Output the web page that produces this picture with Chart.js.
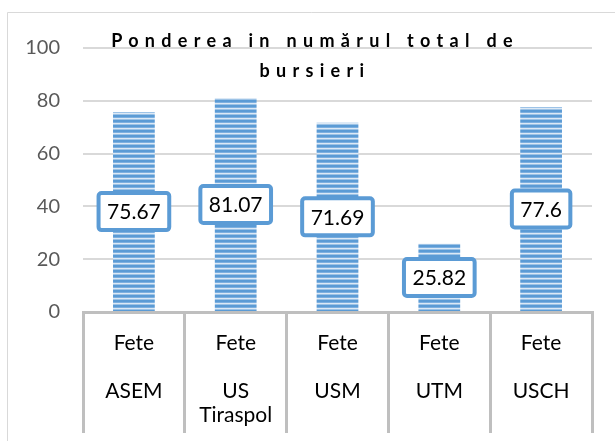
<!DOCTYPE html>
<html>
<head>
<meta charset="utf-8">
<script src="https://cdn.jsdelivr.net/npm/chart.js@4.4.1/dist/chart.umd.min.js"></script>
<style>
  html, body { margin: 0; padding: 0; background: #fff; }
  #wrap { width: 615px; height: 441px; position: relative; }
</style>
</head>
<body>
<div id="wrap"><canvas id="graficoBursieri"></canvas></div>
<script>
// date
var titleLines = ['Ponderea in numărul total de', 'bursieri'];
var groupName = 'Fete';
var universitati = [['ASEM'], ['US', 'Tiraspol'], ['USM'], ['UTM'], ['USCH']];
var ponderea = [75.67, 81.07, 71.69, 25.82, 77.6];
var yTicks = [0, 20, 40, 60, 80, 100];

var FONT = 'Lato, "Open Sans", sans-serif';
var albastru = '#5B9BD5';

// etichete pe doua niveluri: "Fete", rand gol, universitatea
var labels = universitati.map(function (u) {
    return [groupName, ''].concat(u);
});

// model cu dungi orizontale pentru bare
var pat = document.createElement('canvas');
pat.width = 4;
pat.height = 5;
var pctx = pat.getContext('2d');
var rows = ['#5B9BD5', '#5B9BD5', '#7DB0E0', '#DCE9F6', '#9DC3E6'];
rows.forEach(function (c, i) {
    pctx.fillStyle = c;
    pctx.fillRect(0, i, 4, 1);
});

var ctx = document.getElementById('graficoBursieri').getContext('2d');
var stripes = ctx.createPattern(pat, 'repeat');

// chenar + fundal
var chenar = {
    id: 'chenar',
    beforeDraw: function (chart) {
        var c = chart.ctx;
        c.save();
        c.fillStyle = '#fff';
        c.fillRect(0, 0, chart.width, chart.height);
        c.strokeStyle = '#D9D9D9';
        c.lineWidth = 1;
        c.beginPath();
        c.moveTo(7.5, chart.height);
        c.lineTo(7.5, 12.5);
        c.lineTo(chart.width, 12.5);
        c.stroke();
        c.restore();
    }
};

// titlul cu litere rarefiate
var titlu = {
    id: 'titlu',
    afterDraw: function (chart) {
        var c = chart.ctx;
        c.save();
        c.font = 'bold 18px ' + FONT;
        c.fillStyle = '#000';
        c.textAlign = 'center';
        c.textBaseline = 'alphabetic';
        c.letterSpacing = '6.3px';
        c.fillText(titleLines[0], 315, 47);
        c.fillText(titleLines[1], 315, 77);
        c.restore();
    }
};

// etichete de date in casete
var etichete = {
    id: 'etichete',
    afterDatasetsDraw: function (chart) {
        var c = chart.ctx;
        var meta = chart.getDatasetMeta(0);
        c.save();
        c.font = '21px ' + FONT;
        meta.data.forEach(function (bar, i) {
            var txt = String(ponderea[i]);
            var w = c.measureText(txt).width + 21;
            var h = 41;
            var cx = bar.x;
            var cy = (bar.y + bar.base) / 2;
            c.beginPath();
            c.roundRect(cx - w / 2 + 2, cy - h / 2 + 2, w - 4, h - 4, 3);
            c.fillStyle = '#fff';
            c.fill();
            c.lineWidth = 4;
            c.strokeStyle = albastru;
            c.stroke();
            c.fillStyle = '#000';
            c.textAlign = 'center';
            c.textBaseline = 'middle';
            c.fillText(txt, cx, cy + 1);
        });
        c.restore();
    }
};

var barData = {
    labels: labels,
    datasets: [
        {
            label: 'Ponderea',
            data: ponderea,
            backgroundColor: stripes,
            borderWidth: 0,
            barPercentage: 0.41,
            categoryPercentage: 1
        }
    ]
};

var grafic = new Chart(ctx, {
    type: 'bar',
    data: barData,
    plugins: [chenar, titlu, etichete],
    options: {
        responsive: true,
        maintainAspectRatio: false,
        animation: false,
        layout: {
            padding: { left: 7, right: 23, top: 48, bottom: 8 }
        },
        plugins: {
            legend: { display: false },
            title: { display: false },
            tooltip: { enabled: false }
        },
        scales: {
            y: {
                min: 0,
                max: 100,
                afterFit: function (scale) { scale.width = 76; },
                afterBuildTicks: function (scale) {
                    scale.ticks = yTicks.map(function (v) { return { value: v }; });
                },
                border: { display: false },
                grid: {
                    color: '#D9D9D9',
                    lineWidth: 2,
                    drawTicks: false
                },
                ticks: {
                    padding: 23,
                    color: '#595959',
                    font: { family: FONT, size: 20 }
                }
            },
            x: {
                afterFit: function (scale) { scale.height = 121; },
                border: { display: true, color: '#BFBFBF', width: 3 },
                grid: {
                    offset: true,
                    drawOnChartArea: false,
                    tickLength: 121,
                    color: '#BFBFBF',
                    lineWidth: 3
                },
                ticks: {
                    padding: -102,
                    maxRotation: 0,
                    autoSkip: false,
                    color: '#000',
                    font: { family: FONT, size: 21, lineHeight: '24px' }
                }
            }
        }
    }
});
</script>
</body>
</html>
